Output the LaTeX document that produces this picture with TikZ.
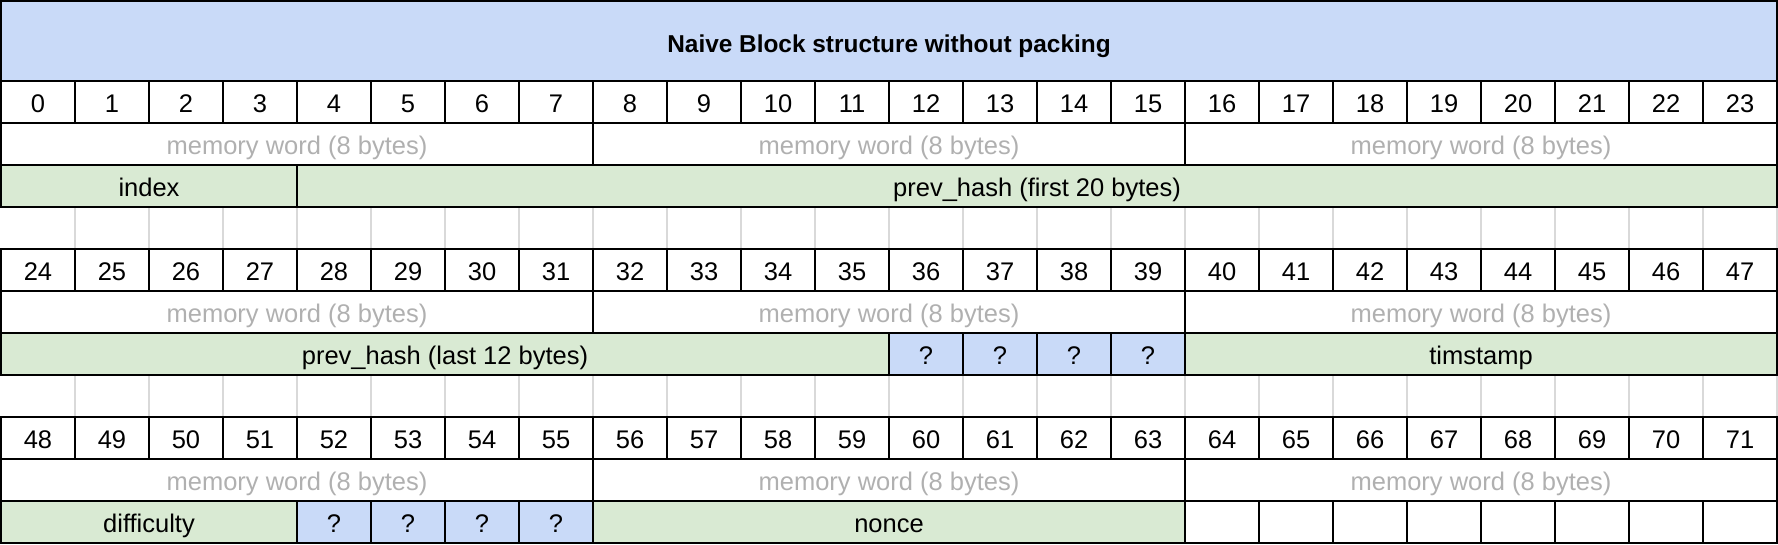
\documentclass[tikz,border=0pt]{standalone}
\usepackage{fontspec}
\setmainfont{Liberation Sans}
\definecolor{hdrblue}{HTML}{C9DAF8}
\definecolor{fldgreen}{HTML}{D9EAD3}
\definecolor{wordgray}{HTML}{B0B0B0}
\definecolor{gridgray}{HTML}{D9D9D9}
\begin{document}
\begin{tikzpicture}[x=1pt,y=-1pt,
  cell/.style={draw=black, line width=2.4pt, inner sep=0pt, outer sep=0pt,
    minimum height=42pt, minimum width=74pt, text height=20pt, text depth=0pt,
    font=\fontsize{25.5}{29}\selectfont, anchor=center},
  wordcell/.style={cell, minimum width=592pt, text=wordgray},
  fieldcell/.style={cell, fill=fldgreen},
  padcell/.style={cell, fill=hdrblue},
  gapline/.style={draw=gridgray, line width=1.6pt}]
\useasboundingbox (0,0) rectangle (1778,544);
% gap rows (light grid)
\foreach \g in {207,375}{
  \foreach \i in {1,...,24}{
    \draw[gapline] ({1+74*\i},\g) -- ({1+74*\i},{\g+42});
  }
}
% title
\node[cell, fill=hdrblue, minimum width=1776pt, minimum height=80pt, text height=22pt,
  font=\fontsize{24.4}{28}\selectfont\bfseries] (title) at (889,41) {Naive Block structure without packing};
% byte numbers
\foreach \b in {0,1,2}{
  \foreach \i in {0,...,23}{
    \pgfmathtruncatemacro\n{24*\b+\i}
    \node[cell] (n\n) at ({38+74*\i},{102+168*\b}) {\n};
  }
}
% memory words
\foreach \b in {0,1,2}{
  \foreach \w in {0,1,2}{
    \node[wordcell] (w\b\w) at ({297+592*\w},{144+168*\b}) {memory word (8 bytes)};
  }
}
% block 0 fields
\node[fieldcell, minimum width=296pt] (index) at (149,186) {index};
\node[fieldcell, minimum width=1480pt] (prevhashA) at (1037,186) {prev\_hash (first 20 bytes)};
% block 1 fields
\node[fieldcell, minimum width=888pt] (prevhashB) at (445,354) {prev\_hash (last 12 bytes)};
\foreach \c in {12,...,15}{
  \node[padcell] (padA\c) at ({38+74*\c},354) {?};
}
\node[fieldcell, minimum width=592pt] (timstamp) at (1481,354) {timstamp};
% block 2 fields
\node[fieldcell, minimum width=296pt] (difficulty) at (149,522) {difficulty};
\foreach \c in {4,...,7}{
  \node[padcell] (padB\c) at ({38+74*\c},522) {?};
}
\node[fieldcell, minimum width=592pt] (nonce) at (889,522) {nonce};
\foreach \c in {16,...,23}{
  \node[cell] (empty\c) at ({38+74*\c},522) {};
}
\end{tikzpicture}
\end{document}
